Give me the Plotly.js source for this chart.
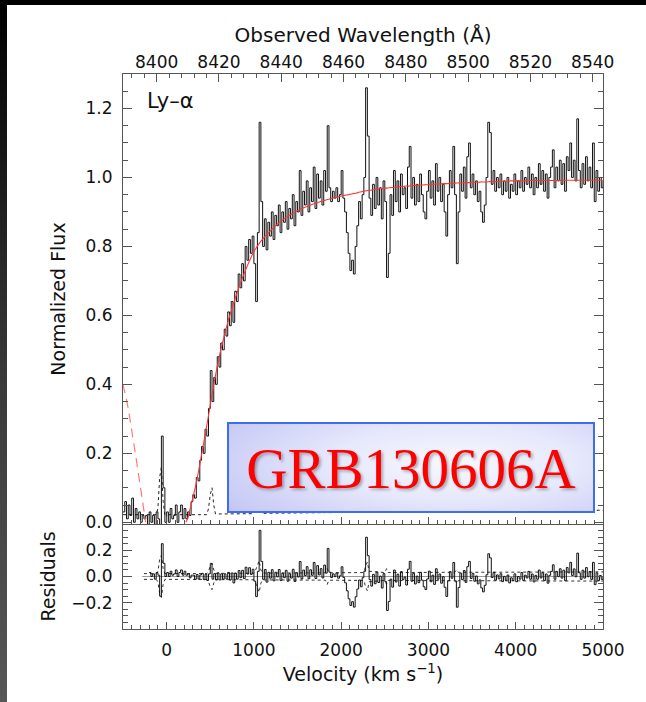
<!DOCTYPE html>
<html>
<head>
<meta charset="utf-8">
<script src="https://cdn.plot.ly/plotly-3.0.1.min.js"></script>
<style>
  html, body { margin: 0; padding: 0; background: #fff; }
  #wrap { position: relative; width: 646px; height: 702px; overflow: hidden; background: #fff; }
  #chart { position: absolute; left: 0; top: 0; width: 646px; height: 702px; }
  #topstrip { position: absolute; left: 0; top: 0; width: 646px; height: 5px; background: #000; z-index: 5; }
  #leftstrip { position: absolute; left: 0; top: 0; width: 7px; height: 702px;
               background: linear-gradient(to bottom, #000 0%, #3a3a3a 55%, #575757 100%); z-index: 6; }
  #grb { position: absolute; left: 227px; top: 422px; width: 364px; height: 85px;
         border: 2px solid #3d6ef2;
         background: radial-gradient(ellipse 75% 95% at 62% 45%, #f7f8fe 0%, #e6e8fc 45%, #cdd0f6 85%, #c3c6f3 100%);
         z-index: 4; display: flex; align-items: center; justify-content: center;
         font-family: 'Liberation Serif', 'Times New Roman', serif; font-size: 57px; color: #ff0000;
         text-shadow: 2px 2px 3px rgba(0,0,0,0.3); line-height: 1; padding-top: 2px; box-sizing: content-box; }
</style>
</head>
<body>
<div id="wrap">
  <div id="chart"></div>
  <div id="topstrip"></div>
  <div id="leftstrip"></div>
  <div id="grb">GRB130606A</div>
</div>
<script>
// ---------------- data ----------------
// Velocity grid of the spectrum: starts at -500 km/s, 20 km/s per pixel
const V0 = -500;
const DV = 20;

// Normalized flux, one value per 20 km/s from -500 to 5000 km/s
const flux = [
  0.03, 0.06, 0.01, 0.05, 0.02, 0.07, 0.00, 0.04, 0.01, 0.03,
  0.00, 0.02, 0.01, 0.02, -0.01, 0.03, 0.00, 0.02, -0.02, 0.03,
  0.01, -0.15, 0.25, 0.10, 0.00, 0.03, 0.00, 0.04, 0.01, 0.02,
  0.05, 0.00, 0.03, 0.05, 0.01, 0.04, 0.01, 0.03, 0.02, 0.06,
  0.08, 0.07, 0.13, 0.12, 0.18, 0.22, 0.20, 0.27, 0.25, 0.33,
  0.44, 0.35, 0.42, 0.40, 0.48, 0.45, 0.52, 0.50, 0.56, 0.54,
  0.61, 0.57, 0.64, 0.58, 0.67, 0.64, 0.72, 0.68, 0.75, 0.70,
  0.80, 0.76, 0.82, 0.78, 0.83, 0.75, 0.64, 0.84, 1.16, 0.93,
  0.80, 0.88, 0.79, 0.87, 0.83, 0.90, 0.82, 0.89, 0.86, 0.92,
  0.84, 0.90, 0.87, 0.93, 0.85, 0.91, 0.88, 0.95, 0.86, 0.93,
  0.90, 1.02, 0.89, 0.96, 0.92, 0.99, 0.90, 0.97, 0.93, 1.03,
  0.91, 1.01, 0.94, 0.99, 0.92, 1.02, 0.96, 1.15, 0.97, 0.93,
  0.96, 0.94, 0.97, 0.93, 0.95, 1.02, 0.94, 0.90, 0.84, 0.78,
  0.73, 0.76, 0.72, 0.80, 0.86, 0.93, 0.88, 0.95, 1.00, 1.26,
  1.12, 0.94, 0.89, 0.98, 0.91, 1.00, 0.92, 0.97, 0.88, 0.99,
  0.93, 0.71, 0.78, 0.95, 0.89, 1.02, 0.93, 0.99, 0.90, 1.01,
  0.95, 0.97, 0.91, 1.03, 1.09, 0.94, 1.00, 0.92, 0.98, 0.93,
  1.01, 0.95, 0.90, 0.88, 0.96, 1.02, 0.94, 0.99, 0.92, 1.04,
  0.96, 1.00, 0.93, 0.98, 0.90, 0.83, 0.95, 1.02, 0.97, 1.09,
  0.95, 0.75, 0.90, 1.01, 0.96, 1.03, 0.94, 1.06, 1.10, 0.97,
  1.01, 0.95, 0.99, 0.93, 0.96, 0.90, 0.87, 0.92, 1.00, 1.16,
  1.13, 0.98, 1.02, 0.96, 1.00, 0.97, 1.01, 0.95, 0.99, 0.96,
  1.00, 0.94, 0.98, 0.96, 1.01, 0.95, 0.99, 0.97, 1.02, 0.96,
  1.00, 0.98, 1.03, 0.97, 1.01, 0.95, 1.00, 0.97, 1.04, 0.98,
  1.02, 0.96, 1.01, 0.94, 1.00, 1.03, 1.08, 0.97, 1.03, 0.99,
  1.05, 0.98, 1.04, 0.96, 1.06, 1.02, 1.10, 1.00, 1.05, 0.99,
  1.17, 1.02, 0.97, 1.04, 0.98, 1.06, 0.99, 1.03, 0.97, 1.10,
  0.93, 1.02, 0.96, 1.00, 0.97, 0.99
];

// Blue-side model wing (dashed), from -500 km/s, 20 km/s steps
const wingV0 = -500;
const wing = [0.40, 0.38, 0.355, 0.33, 0.30, 0.27, 0.24, 0.205, 0.17, 0.135, 0.10, 0.06, 0.025, 0.0];

// Damping-wing model (solid red), from 220 km/s, 20 km/s steps
const MODEL_V0 = 220;
const model = [
  0.000, 0.010, 0.030, 0.050, 0.070, 0.092, 0.115, 0.140, 0.168, 0.196,
  0.224, 0.252, 0.280, 0.310, 0.340, 0.370, 0.398, 0.426, 0.452, 0.476,
  0.500, 0.520, 0.540, 0.560, 0.579, 0.597, 0.613, 0.629, 0.645, 0.660,
  0.675, 0.689, 0.703, 0.716, 0.729, 0.741, 0.753, 0.764, 0.775, 0.785,
  0.793, 0.801, 0.808, 0.815, 0.821, 0.827, 0.833, 0.838, 0.843, 0.848,
  0.853, 0.858, 0.863, 0.867, 0.871, 0.875, 0.879, 0.883, 0.886, 0.889,
  0.892, 0.895, 0.898, 0.901, 0.904, 0.906, 0.909, 0.911, 0.913, 0.915,
  0.917, 0.919, 0.921, 0.923, 0.925, 0.927, 0.928, 0.930, 0.931, 0.933,
  0.934, 0.936, 0.937, 0.938, 0.940, 0.941, 0.942, 0.943, 0.945, 0.946,
  0.947, 0.948, 0.949, 0.950, 0.951, 0.952, 0.953, 0.954, 0.955, 0.957,
  0.958, 0.959, 0.960, 0.961, 0.962, 0.963, 0.963, 0.964, 0.965, 0.966,
  0.966, 0.967, 0.968, 0.968, 0.969, 0.969, 0.970, 0.970, 0.971, 0.971,
  0.972, 0.972, 0.973, 0.973, 0.974, 0.974, 0.975, 0.975, 0.975, 0.976,
  0.976, 0.977, 0.977, 0.977, 0.978, 0.978, 0.978, 0.979, 0.979, 0.979,
  0.980, 0.980, 0.980, 0.981, 0.981, 0.981, 0.981, 0.982, 0.982, 0.982,
  0.982, 0.983, 0.983, 0.983, 0.983, 0.984, 0.984, 0.984, 0.984, 0.985,
  0.985, 0.985, 0.985, 0.985, 0.986, 0.986, 0.986, 0.986, 0.986, 0.987,
  0.987, 0.987, 0.987, 0.987, 0.988, 0.988, 0.988, 0.988, 0.988, 0.988,
  0.989, 0.989, 0.989, 0.989, 0.989, 0.989, 0.990, 0.990, 0.990, 0.990,
  0.990, 0.990, 0.990, 0.990, 0.990, 0.991, 0.991, 0.991, 0.991, 0.991,
  0.991, 0.991, 0.991, 0.991, 0.991, 0.991, 0.991, 0.991, 0.991, 0.991,
  0.991, 0.991, 0.991, 0.991, 0.991, 0.992, 0.992, 0.992, 0.992, 0.992,
  0.992, 0.992, 0.992, 0.992, 0.992, 0.992, 0.992, 0.992, 0.992, 0.992,
  0.992, 0.992, 0.992, 0.992, 0.992, 0.992, 0.992, 0.992, 0.992, 0.992
];

// 1-sigma error spectrum (dotted)
const errV = [-500, -260, -120, -100, -80, -60, -40, -20, 460, 480, 500, 520, 540, 560,
              1000, 1020, 1040, 1060, 1080, 1100, 1820, 1840, 1860, 2260, 2280, 2300, 2320,
              2500, 2520, 2540, 3300, 3320, 3340, 5000];
const errF = [0.022, 0.022, 0.022, 0.04, 0.13, 0.16, 0.06, 0.022, 0.022, 0.04, 0.08, 0.10, 0.05, 0.024,
              0.025, 0.05, 0.09, 0.12, 0.05, 0.026, 0.028, 0.06, 0.028, 0.03, 0.08, 0.11, 0.04,
              0.03, 0.06, 0.03, 0.032, 0.05, 0.032, 0.035];

// residuals are shown from this velocity on; grey zero reference line start
const RES_START = -200;
const ZERO_START = -280;

// axis ranges and ticks
const velRange = [-500, 5000];
const lamRange = [8389.2, 8543.3];
const fluxRange = [-0.005, 1.30];
const resRange = [-0.4, 0.4];
const resTickVals = [-0.2, 0, 0.2];
const resTickText = ['\u22120.2', '0.0', '0.2'];

// ---------------- derived series ----------------
const resid = [];
for (let i = 0; i < flux.length; i++) {
  const v = V0 + DV * i;
  if (v < RES_START) continue;
  const j = Math.round((v - MODEL_V0) / DV);
  const m = j >= 0 ? model[j] : 0;
  resid.push(+(flux[i] - m).toFixed(3));
}
const eV = [], eUp = [], eDn = [];
errV.forEach((v, k) => { if (v >= -260) { eV.push(v); eUp.push(errF[k]); eDn.push(-errF[k]); } });

// ---------------- plot ----------------
const AX = '#555';
const FONT = 'DejaVu Sans, Liberation Sans, Arial, sans-serif';
const TF = { family: FONT, size: 17, color: '#111' };

const traces = [
  { type: 'scatter', mode: 'lines', x: errV, y: errF, xaxis: 'x3', yaxis: 'y2',
    line: { color: '#222', width: 1, dash: 'dot' }, hoverinfo: 'skip' },
  { type: 'scatter', mode: 'lines', x0: V0, dx: DV, y: flux, xaxis: 'x3', yaxis: 'y2',
    line: { color: '#111', width: 1, shape: 'hv' }, hoverinfo: 'skip' },
  { type: 'scatter', mode: 'lines', x0: wingV0, dx: DV, y: wing, xaxis: 'x3', yaxis: 'y2',
    line: { color: '#ff7a7a', width: 1.2, dash: '9px,6px' }, hoverinfo: 'skip' },
  { type: 'scatter', mode: 'lines', x0: MODEL_V0, dx: DV, y: model, xaxis: 'x3', yaxis: 'y2',
    line: { color: '#ff3535', width: 1.1, shape: 'spline' }, hoverinfo: 'skip' },
  { type: 'scatter', mode: 'lines', x: [lamRange[0], lamRange[1]], y: [null, null], xaxis: 'x2', yaxis: 'y2',
    hoverinfo: 'skip' },
  // residual panel
  { type: 'scatter', mode: 'lines', x: eV, y: eUp, xaxis: 'x', yaxis: 'y',
    line: { color: '#333', width: 1, dash: 'dot' }, hoverinfo: 'skip' },
  { type: 'scatter', mode: 'lines', x: eV, y: eDn, xaxis: 'x', yaxis: 'y',
    line: { color: '#333', width: 1, dash: 'dot' }, hoverinfo: 'skip' },
  { type: 'scatter', mode: 'lines', x0: RES_START, dx: DV, y: resid, xaxis: 'x', yaxis: 'y',
    line: { color: '#111', width: 1, shape: 'hv' }, hoverinfo: 'skip' }
];

const split = 105 / 555;
const common = {
  showline: true, linecolor: AX, linewidth: 1, showgrid: false, zeroline: false,
  ticks: 'inside', tickcolor: AX, tickwidth: 1, tickfont: TF
};

const layout = {
  width: 646, height: 702,
  margin: { l: 123, r: 43, t: 74, b: 73 },
  paper_bgcolor: '#fff', plot_bgcolor: 'rgba(0,0,0,0)',
  showlegend: false,
  font: { family: FONT, color: '#111' },
  xaxis: Object.assign({}, common, {
    anchor: 'y', domain: [0, 1], range: velRange, tick0: 0, dtick: 1000, ticklen: 7,
    minor: { dtick: 100, ticklen: 4, ticks: 'inside', tickcolor: AX },
    ticklabelstandoff: 6,
    title: { text: 'Velocity (km s<sup>\u22121</sup>)', font: { family: FONT, size: 19, color: '#111' }, standoff: 8 }
  }),
  xaxis3: Object.assign({}, common, {
    anchor: 'y2', domain: [0, 1], range: velRange, tick0: 0, dtick: 1000, ticklen: 7,
    minor: { dtick: 100, ticklen: 4, ticks: 'inside', tickcolor: AX },
    showticklabels: false
  }),
  xaxis2: Object.assign({}, common, {
    anchor: 'y2', overlaying: 'x3', side: 'top', range: lamRange, tick0: 8400, dtick: 20, ticklen: 8,
    minor: { dtick: 4, ticklen: 4, ticks: 'inside', tickcolor: AX },
    ticklabelstandoff: -2,
    title: { text: 'Observed Wavelength (\u00c5)', font: { family: FONT, size: 20, color: '#111' }, standoff: 4 }
  }),
  yaxis2: Object.assign({}, common, {
    anchor: 'x3', domain: [split, 1], range: fluxRange, tick0: 0, dtick: 0.2, tickformat: '.1f',
    ticklen: 9, mirror: 'ticks',
    minor: { dtick: 0.05, ticklen: 5, ticks: 'inside', tickcolor: AX },
    ticklabelstandoff: 6,
    title: { text: 'Normalized Flux', font: { family: FONT, size: 19, color: '#111' }, standoff: 14 }
  }),
  yaxis: Object.assign({}, common, {
    anchor: 'x', domain: [0, split], range: resRange, tickmode: 'array',
    tickvals: resTickVals, ticktext: resTickText,
    ticklen: 9, mirror: 'ticks',
    minor: { tickmode: 'linear', tick0: 0, dtick: 0.05, ticklen: 5, ticks: 'inside', tickcolor: AX },
    ticklabelstandoff: 6,
    title: { text: 'Residuals', font: { family: FONT, size: 19, color: '#111' }, standoff: 10 }
  }),
  shapes: [
    { type: 'line', xref: 'x', yref: 'y', x0: ZERO_START, x1: velRange[1], y0: 0, y1: 0,
      line: { color: '#999', width: 1.2 }, layer: 'below' }
  ],
  annotations: [
    { text: 'Ly\u2013\u03b1', xref: 'paper', yref: 'paper', x: 0.046, y: 0.952,
      xanchor: 'left', yanchor: 'middle', showarrow: false,
      font: { family: FONT, size: 21, color: '#111' } }
  ]
};

Plotly.newPlot('chart', traces, layout, { displayModeBar: false, staticPlot: true });
</script>
</body>
</html>
